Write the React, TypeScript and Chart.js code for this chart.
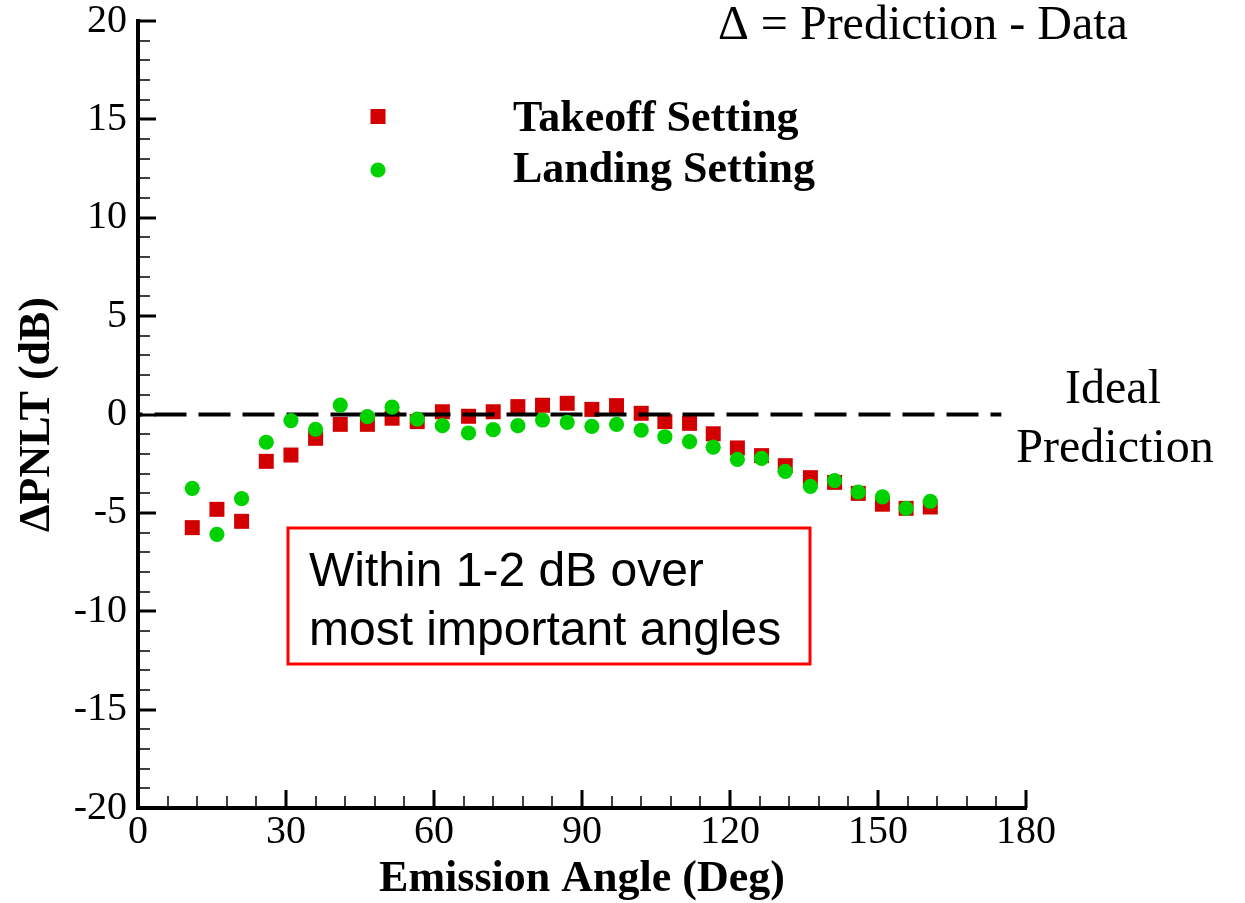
import React, { useEffect, useRef } from "react";
import { Chart, registerables } from "chart.js";

Chart.register(...registerables);

// ---- Data ----
const emissionAngles = [11, 16, 21, 26, 31, 36, 41, 46.5, 51.5, 56.6, 61.7, 67, 72, 77, 82, 87, 92, 97, 102, 106.8, 111.8, 116.6, 121.5, 126.4, 131.2, 136.3, 141.2, 146, 150.9, 155.7, 160.6];
const takeoffDelta = [-5.75, -4.82, -5.43, -2.38, -2.06, -1.21, -0.5, -0.5, -0.19, -0.36, 0.14, -0.09, 0.14, 0.4, 0.47, 0.57, 0.26, 0.45, 0.06, -0.36, -0.45, -0.98, -1.7, -2.09, -2.6, -3.21, -3.45, -4.01, -4.56, -4.77, -4.7];
const landingDelta = [-3.75, -6.09, -4.28, -1.41, -0.31, -0.75, 0.48, -0.11, 0.37, -0.23, -0.57, -0.94, -0.77, -0.57, -0.28, -0.4, -0.6, -0.5, -0.8, -1.13, -1.38, -1.66, -2.28, -2.23, -2.89, -3.65, -3.36, -3.94, -4.19, -4.77, -4.41];
const idealX = [0, 175];
const idealY = [0, 0];

const xTickValues = [0, 30, 60, 90, 120, 150, 180];
const yTickValues = [-20, -15, -10, -5, 0, 5, 10, 15, 20];
const xMinorStep = 6;
const yMinorStep = 1;

const seriesNames = ["Takeoff Setting", "Landing Setting"];
const xTitle = "Emission Angle (Deg)";
const yTitle = "\u0394PNLT (dB)";
const noteTop = "\u0394 = Prediction - Data";
const noteIdeal = ["Ideal", "Prediction"];
const noteBox = ["Within 1-2 dB over", "most important angles"];

const RED = "#d20000";
const GREEN = "#00d200";
const SERIF = "'Liberation Serif', 'Times New Roman', serif";
const SANS = "'Liberation Sans', Arial, sans-serif";

const decorPlugin = {
  id: "decor",
  afterDraw(chart: any) {
    const { ctx, chartArea } = chart;
    const xs = chart.scales.x;
    const ys = chart.scales.y;
    const { left, right, top, bottom } = chartArea;
    ctx.save();
    ctx.strokeStyle = "#000";
    // y ticks (inward)
    const yMin = yTickValues[0];
    const yMax = yTickValues[yTickValues.length - 1];
    for (let v = yMin; v <= yMax; v += yMinorStep) {
      const p = Math.round(ys.getPixelForValue(v));
      const major = v % 5 === 0;
      ctx.lineWidth = major ? 3 : 1.5;
      ctx.beginPath();
      ctx.moveTo(left, p);
      ctx.lineTo(left + (major ? 18 : 12), p);
      ctx.stroke();
    }
    const xMin = xTickValues[0];
    const xMax = xTickValues[xTickValues.length - 1];
    for (let v = xMin; v <= xMax; v += xMinorStep) {
      const p = Math.round(xs.getPixelForValue(v));
      const major = v % 30 === 0;
      ctx.lineWidth = major ? 3 : 1.5;
      ctx.beginPath();
      ctx.moveTo(p, bottom);
      ctx.lineTo(p, bottom - (major ? 18 : 12));
      ctx.stroke();
    }
    // axis lines
    ctx.lineWidth = 4;
    ctx.lineJoin = "miter";
    ctx.lineCap = "butt";
    ctx.beginPath();
    ctx.moveTo(left, top - 2);
    ctx.lineTo(left, bottom);
    ctx.lineTo(right + 1, bottom);
    ctx.stroke();

    // legend
    ctx.fillStyle = RED;
    ctx.fillRect(378 - 7.5, 116.5 - 7.5, 15, 15);
    ctx.fillStyle = GREEN;
    ctx.beginPath();
    ctx.arc(378, 170, 7.6, 0, Math.PI * 2);
    ctx.fill();
    ctx.fillStyle = "#000";
    ctx.textBaseline = "alphabetic";
    ctx.textAlign = "left";
    ctx.font = `bold 44px ${SERIF}`;
    ctx.fillText(seriesNames[0], 513, 131);
    ctx.fillText(seriesNames[1], 513, 182);

    // top-right note
    ctx.font = `48px ${SERIF}`;
    ctx.fillText(noteTop, 718, 39);

    // ideal prediction note
    ctx.textAlign = "center";
    ctx.fillText(noteIdeal[0], 1113, 403);
    ctx.fillText(noteIdeal[1], 1115, 462);

    // red box
    ctx.strokeStyle = "#ff0000";
    ctx.lineWidth = 3;
    ctx.strokeRect(288, 528, 522, 136);
    ctx.textAlign = "left";
    ctx.font = `48px ${SANS}`;
    ctx.fillText(noteBox[0], 309, 586);
    ctx.fillText(noteBox[1], 309, 645);
    ctx.restore();
  },
};

export default function App() {
  const ref = useRef<HTMLCanvasElement | null>(null);
  useEffect(() => {
    if (!ref.current) return;
    const chart = new Chart(ref.current, {
      type: "scatter",
      data: {
        datasets: [
          {
            type: "scatter",
            label: seriesNames[1],
            data: emissionAngles.map((x, i) => ({ x, y: landingDelta[i] })),
            pointStyle: "circle",
            pointRadius: 7.6,
            pointHoverRadius: 7.6,
            backgroundColor: GREEN,
            borderColor: GREEN,
            pointBorderWidth: 0,
            order: 1,
          },
          {
            type: "line",
            label: "Ideal",
            data: idealX.map((x, i) => ({ x, y: idealY[i] })),
            borderColor: "#000",
            borderWidth: 4,
            borderDash: [32, 12],
            borderDashOffset: 27.5,
            pointRadius: 0,
            fill: false,
            order: 2,
          },
          {
            type: "scatter",
            label: seriesNames[0],
            data: emissionAngles.map((x, i) => ({ x, y: takeoffDelta[i] })),
            pointStyle: "rect",
            pointRadius: 10.6,
            pointHoverRadius: 10.6,
            backgroundColor: RED,
            borderColor: RED,
            pointBorderWidth: 0,
            order: 3,
          },
        ],
      },
      options: {
        responsive: false,
        animation: false,
        devicePixelRatio: 1,
        layout: { padding: { left: 0, top: 21, right: 219, bottom: 0 } },
        plugins: { legend: { display: false }, tooltip: { enabled: false } },
        events: [],
        scales: {
          x: {
            type: "linear",
            position: "bottom",
            min: 0,
            max: 180,
            afterFit: (s: any) => {
              s.height = 95;
              s.paddingLeft = 0;
              s.paddingRight = 0;
            },
            afterBuildTicks: (s: any) => {
              s.ticks = xTickValues.map((v) => ({ value: v }));
            },
            grid: { display: false, drawTicks: false },
            border: { display: false },
            ticks: {
              autoSkip: false,
              maxRotation: 0,
              padding: 0,
              color: "#000",
              font: { family: SERIF, size: 40 },
              callback: (v: any) => String(v),
            },
            title: {
              display: true,
              text: xTitle,
              color: "#000",
              font: { family: SERIF, size: 44, weight: "bold", lineHeight: 1 },
              padding: { top: 0, bottom: 1 },
            },
          },
          y: {
            type: "linear",
            position: "left",
            min: -20,
            max: 20,
            afterFit: (s: any) => {
              s.width = 138;
              s.paddingTop = 0;
              s.paddingBottom = 0;
            },
            afterBuildTicks: (s: any) => {
              s.ticks = yTickValues.map((v) => ({ value: v }));
            },
            grid: { display: false, drawTicks: false },
            border: { display: false },
            ticks: {
              autoSkip: false,
              padding: 11,
              color: "#000",
              font: { family: SERIF, size: 40 },
              callback: (v: any) => String(v),
            },
            title: {
              display: true,
              text: yTitle,
              color: "#000",
              font: { family: SERIF, size: 44, weight: "bold", lineHeight: 1 },
              padding: { top: 16, bottom: 0 },
            },
          },
        },
      },
      plugins: [decorPlugin],
    });
    return () => chart.destroy();
  }, []);
  return (
    <div style={{ position: "absolute", left: 0, top: 0, width: 1245, height: 903, background: "#fff" }}>
      <canvas ref={ref} width={1245} height={903} style={{ display: "block" }} />
    </div>
  );
}
